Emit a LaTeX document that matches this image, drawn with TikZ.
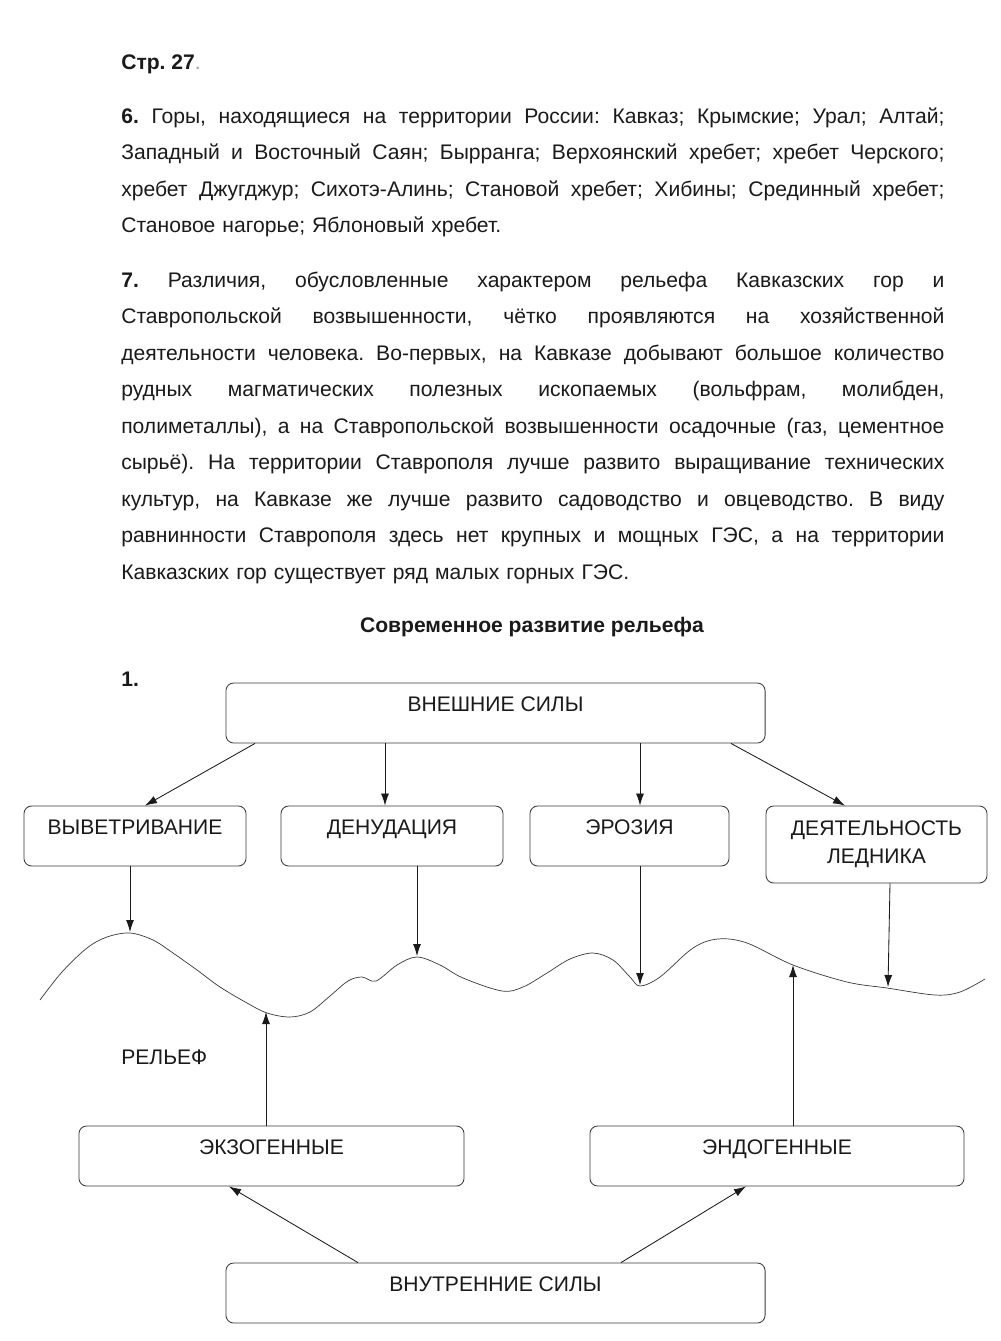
\documentclass[tikz,border=0pt]{standalone}
\usepackage{fontspec}
\setmainfont{Liberation Sans}
\usetikzlibrary{arrows.meta, positioning, calc}
\definecolor{cline}{HTML}{3A3A3A}
\definecolor{ctext}{HTML}{1A1A1A}
\definecolor{cdot}{HTML}{9A9A9A}
\newlength{\parwd}
\setlength{\parwd}{20.575cm}
\newcommand{\jline}[1]{\makebox[\parwd][s]{\spaceskip=0.278em plus 1fil\relax #1}}
\frenchspacing

\begin{document}
\begin{tikzpicture}[x=0.025cm, y=-0.025cm,
  every node/.style={font=\fontsize{15}{26}\selectfont, text=ctext},
  para/.style={anchor=base west, inner sep=0pt, text width=\parwd, align=left},
  box/.style={draw=cline, line width=0.6pt, rounded corners=5.5pt, inner sep=0pt, minimum height=1.5cm},
  onebox/.style={box, text height=20pt, text depth=22.5pt},
  arr/.style={draw=ctext, line width=0.6pt, -{Latex[length=3mm, width=2mm]}}]
  % page
  \fill[white] (0,0) rectangle (1000,1341);
  \useasboundingbox (0,0) rectangle (1000,1341);

  % Text part
  \node[anchor=base west, inner sep=0pt] (page) at (121,69) {\textbf{Стр. 27}\textcolor{cdot}{.}};
  \node[para] (task6) at (121,123) {%
    \jline{\textbf{6.} Горы, находящиеся на территории России: Кавказ; Крымские; Урал; Алтай;}\\
    \jline{Западный и Восточный Саян; Бырранга; Верхоянский хребет; хребет Черского;}\\
    \jline{хребет Джугджур; Сихотэ-Алинь; Становой хребет; Хибины; Срединный хребет;}\\
    Становое нагорье; Яблоновый хребет.};
  \node[para] (task7) at (121,287) {%
    \jline{\textbf{7.} Различия, обусловленные характером рельефа Кавказских гор и}\\
    \jline{Ставропольской возвышенности, чётко проявляются на хозяйственной}\\
    \jline{деятельности человека. Во-первых, на Кавказе добывают большое количество}\\
    \jline{рудных магматических полезных ископаемых (вольфрам, молибден,}\\
    \jline{полиметаллы), а на Ставропольской возвышенности осадочные (газ, цементное}\\
    \jline{сырьё). На территории Ставрополя лучше развито выращивание технических}\\
    \jline{культур, на Кавказе же лучше развито садоводство и овцеводство. В виду}\\
    \jline{равнинности Ставрополя здесь нет крупных и мощных ГЭС, а на территории}\\
    Кавказских гор существует ряд малых горных ГЭС.};

  \node[anchor=base, inner sep=0pt] (title) at (532,632) {\textbf{Современное развитие рельефа}};
  \node[anchor=base west, inner sep=0pt] (num) at (121,686) {\textbf{1.}};

  % Boxes
  \node[onebox, minimum width=13.475cm] (vneshnie) at (495.5,713) {ВНЕШНИЕ СИЛЫ};
  \node[onebox, minimum width=5.55cm] (vyvetr) at (135,836) {ВЫВЕТРИВАНИЕ};
  \node[onebox, minimum width=5.55cm] (denud) at (392,836) {ДЕНУДАЦИЯ};
  \node[onebox, minimum width=4.975cm] (erozia) at (629.5,836) {ЭРОЗИЯ};
  \node[box, minimum width=5.525cm, minimum height=1.925cm, align=center,
    font=\fontsize{15}{20}\selectfont] (lednik) at (876.5,844.5) {ДЕЯТЕЛЬНОСТЬ\\ЛЕДНИКА};
  \node[onebox, minimum width=9.625cm] (ekzo) at (271.5,1156) {ЭКЗОГЕННЫЕ};
  \node[onebox, minimum width=9.35cm] (endo) at (777,1156) {ЭНДОГЕННЫЕ};
  \node[onebox, minimum width=13.475cm] (vnutr) at (495.5,1293) {ВНУТРЕННИЕ СИЛЫ};

  % Relief line
  \draw[cline, line width=0.5pt] plot[smooth, tension=0.55] coordinates {
    (40,1000) (62,972) (87,948) (107,937) (130,933) (153,940) (173,953)
    (197,970) (220,987) (247,1003) (267,1013) (290,1017) (310,1012) (330,996)
    (348,981) (362,977) (376,981) (397,965) (417,957) (440,965) (463,978)
    (502,991) (523,987) (547,973) (570,959) (593,953) (613,960) (630,977) (640,986)
    (660,977) (693,948) (718,939) (747,943) (793,965) (847,982) (887,988)
    (935,995) (960,992) (985,979)};
  \node[anchor=base west, inner sep=0pt] (relief) at (121,1064) {РЕЛЬЕФ};

  \coordinate (tvyv) at (130,932);
  \coordinate (tden) at (417,956);
  \coordinate (tero) at (640,985);
  \coordinate (tled) at (888,987);
  \coordinate (texo) at (266,1012);
  \coordinate (tend) at (793,965);

  % Arrows
  \draw[arr] (vneshnie.south -| 255,0) -- (vyvetr.north -| 145,0);
  \draw[arr] (vneshnie.south -| 385,0) -- (denud.north -| 385,0);
  \draw[arr] (vneshnie.south -| 640,0) -- (erozia.north -| 640,0);
  \draw[arr] (vneshnie.south -| 731,0) -- (lednik.north -| 845,0);
  \draw[arr] (vyvetr.south -| tvyv) -- (tvyv);
  \draw[arr] (denud.south -| tden) -- (tden);
  \draw[arr] (erozia.south -| tero) -- (tero);
  \draw[arr] (lednik.south -| 890,0) -- (tled);
  \draw[arr] (ekzo.north -| texo) -- (texo);
  \draw[arr] (endo.north -| tend) -- (tend);
  \draw[arr] (vnutr.north -| 358,0) -- (ekzo.south -| 229,0);
  \draw[arr] (vnutr.north -| 621,0) -- (endo.south -| 746,0);
\end{tikzpicture}
\end{document}
